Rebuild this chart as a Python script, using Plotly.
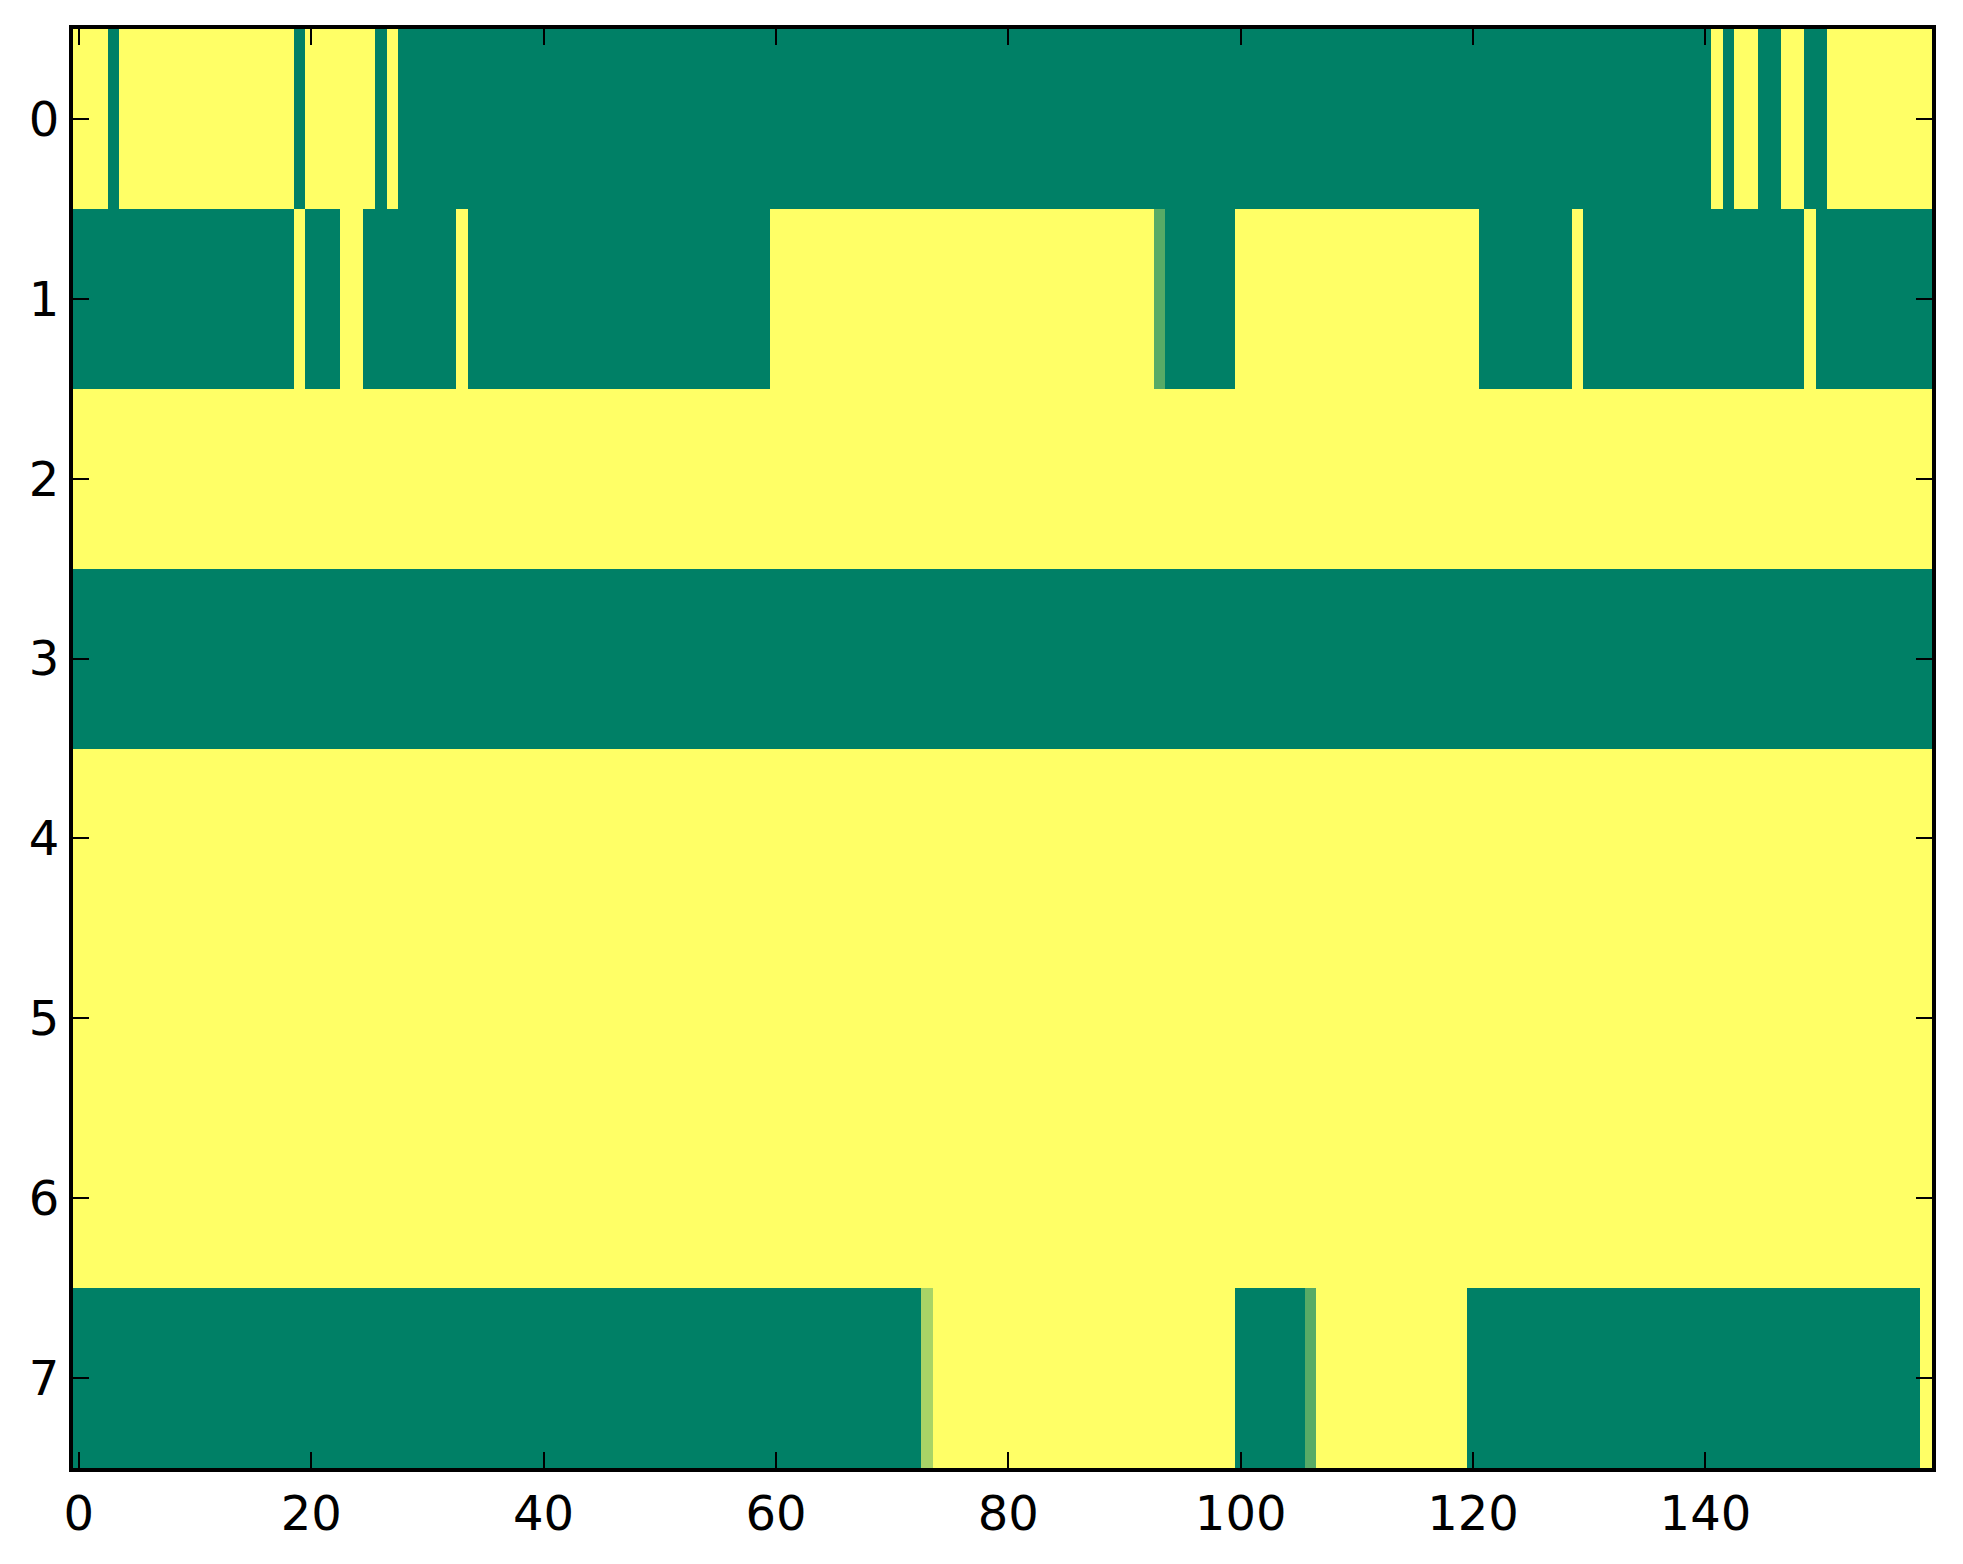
import plotly.graph_objects as go

# each row is kept as runs of (value, number of columns), read left to right
row0 = [(1, 3), (0, 1), (1, 15), (0, 1), (1, 6), (0, 1), (1, 1), (0, 113),
        (1, 1), (0, 1), (1, 2), (0, 2), (1, 2), (0, 2), (1, 9)]
row1 = [(0, 19), (1, 1), (0, 3), (1, 2), (0, 8), (1, 1), (0, 26), (1, 33),
        (0.34, 1), (0, 6), (1, 21), (0, 8), (1, 1), (0, 19), (1, 1), (0, 10)]
row2 = [(1, 160)]
row3 = [(0, 160)]
row4 = [(1, 160)]
row5 = [(1, 160)]
row6 = [(1, 160)]
row7 = [(0, 73), (0.66, 1), (1, 26), (0, 6), (0.34, 1), (1, 13), (0, 39), (1, 1)]

x_ticks = [0, 20, 40, 60, 80, 100, 120, 140]
y_ticks = [0, 1, 2, 3, 4, 5, 6, 7]


def expand(runs):
    vals = []
    for v, n in runs:
        vals += [v] * n
    return vals


z = [expand(r) for r in [row0, row1, row2, row3, row4, row5, row6, row7]]

# matplotlib "summer"
summer = [[0.0, 'rgb(0,128,102)'], [1.0, 'rgb(255,255,102)']]

fig = go.Figure()
fig.add_trace(go.Heatmap(
    z=z,
    x=list(range(len(z[0]))),
    y=y_ticks,
    colorscale=summer,
    zmin=0, zmax=1,
    showscale=False,
    hoverongaps=False))

axis_style = dict(
    showline=True, linecolor='black', linewidth=4, mirror='ticks',
    ticks='inside', ticklen=16, tickwidth=2, tickcolor='black',
    showgrid=False, zeroline=False,
    tickfont=dict(family='DejaVu Sans', size=48, color='black'))

fig.update_xaxes(range=[-0.5, 159.5], tickvals=x_ticks, **axis_style)
fig.update_yaxes(range=[7.5, -0.5], tickvals=y_ticks, **axis_style)

# page body has an 8px margin, so the figure is a bit smaller than the window
fig.update_layout(
    width=1947, height=1548,
    margin={'l': 65, 'r': 23, 't': 21, 'b': 88},
    paper_bgcolor='white', plot_bgcolor='white')

fig.write_html("out.html")
